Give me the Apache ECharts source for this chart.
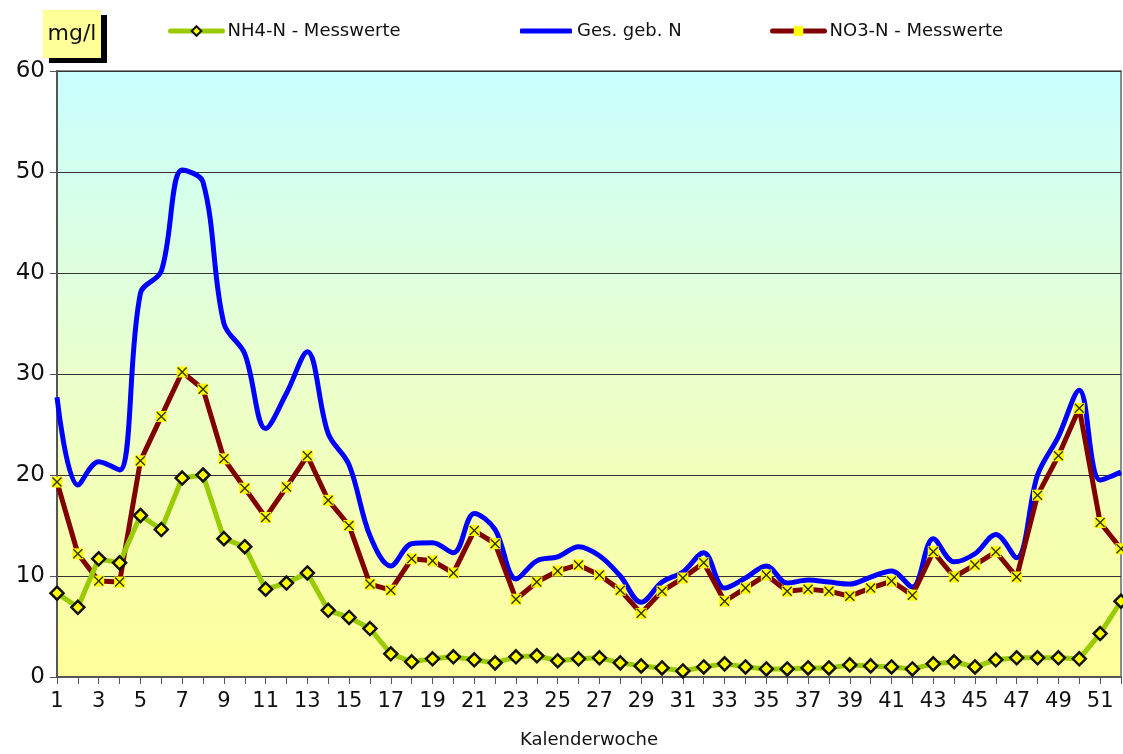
<!DOCTYPE html>
<html>
<head>
<meta charset="utf-8">
<script src="https://cdn.jsdelivr.net/npm/echarts@6/dist/echarts.min.js"></script>
<style>
  html, body { margin: 0; padding: 0; background: #fff; }
  #chart { width: 1123px; height: 754px; }
</style>
</head>
<body>
<div id="chart"></div>
<script>
// Kalenderwochen 1..52
const weeks = Array.from({ length: 52 }, (_, i) => String(i + 1));

const nh4 = [8.3, 6.9, 11.7, 11.3, 16.0, 14.6, 19.7, 20.0, 13.7, 12.9,
  8.7, 9.3, 10.3, 6.6, 5.9, 4.8, 2.3, 1.5, 1.8, 2.0,
  1.7, 1.4, 2.0, 2.1, 1.6, 1.8, 1.9, 1.4, 1.1, 0.9,
  0.6, 1.0, 1.3, 1.0, 0.8, 0.8, 0.9, 0.9, 1.2, 1.1,
  1.0, 0.8, 1.3, 1.5, 1.0, 1.7, 1.9, 1.9, 1.9, 1.8,
  4.3, 7.5];

const gesN = [27.7, 19.0, 21.3, 20.5, 38.0, 40.2, 50.2, 49.0, 35.0, 32.0,
  24.6, 28.1, 32.2, 24.1, 21.0, 14.0, 11.0, 13.2, 13.3, 12.3,
  16.2, 14.6, 9.7, 11.5, 11.9, 12.9, 12.0, 10.0, 7.4, 9.4,
  10.4, 12.3, 8.8, 9.8, 11.0, 9.3, 9.6, 9.4, 9.2, 9.9,
  10.5, 8.9, 13.7, 11.4, 12.2, 14.1, 11.8, 20.0, 23.8, 28.4,
  19.5, 20.3];

const no3 = [19.3, 12.2, 9.5, 9.4, 21.4, 25.8, 30.2, 28.5, 21.6, 18.7,
  15.8, 18.8, 21.9, 17.5, 15.0, 9.2, 8.6, 11.7, 11.5, 10.3,
  14.5, 13.2, 7.7, 9.4, 10.5, 11.1, 10.1, 8.6, 6.3, 8.5,
  9.8, 11.3, 7.5, 8.8, 10.1, 8.5, 8.7, 8.5, 8.0, 8.8,
  9.5, 8.1, 12.4, 9.9, 11.1, 12.4, 9.9, 18.0, 21.9, 26.6,
  15.3, 12.7];

const FONT = 'DejaVu Sans';
// schwarzes Kreuz auf dem gelben Kästchen
const crossPath = 'path://M1,0L5,4L9,0L10,1L6,5L10,9L9,10L5,6L1,10L0,9L4,5L0,1Z';

const chart = echarts.init(document.getElementById('chart'));

const legendBase = {
  top: 17,
  itemWidth: 52,
  itemHeight: 12,
  textStyle: { fontFamily: FONT, fontSize: 18, color: '#111' },
  lineStyle: { width: 5, cap: 'round' },
  itemGap: 2
};

chart.setOption({
  animation: false,
  textStyle: { fontFamily: FONT },
  grid: {
    left: 57, right: 2, top: 71, bottom: 77,
    show: true,
    borderColor: '#8a8a8a',
    borderWidth: 2,
    backgroundColor: new echarts.graphic.LinearGradient(0, 0, 0, 1, [
      { offset: 0, color: '#c8ffff' },
      { offset: 0.5, color: '#eaffcc' },
      { offset: 1, color: '#ffff99' }
    ])
  },
  legend: [
    Object.assign({}, legendBase, { left: 163, data: ['NH4-N - Messwerte'] }),
    Object.assign({}, legendBase, {
      left: 515, itemHeight: 5,
      data: [{ name: 'Ges. geb. N', icon: 'roundRect' }]
    }),
    Object.assign({}, legendBase, { left: 765, data: ['NO3-N - Messwerte'] })
  ],
  xAxis: {
    type: 'category',
    data: weeks,
    boundaryGap: false,
    name: 'Kalenderwoche',
    nameLocation: 'middle',
    nameGap: 54,
    nameTextStyle: { fontFamily: FONT, fontSize: 18, color: '#111' },
    axisLine: { lineStyle: { color: '#555', width: 2 } },
    axisTick: { interval: 0, length: 7, lineStyle: { color: '#555' } },
    axisLabel: { interval: 1, fontSize: 21, color: '#111', margin: 14 },
    splitLine: { show: false }
  },
  yAxis: {
    type: 'value',
    min: 0, max: 60, interval: 10,
    axisLine: { show: true, lineStyle: { color: '#555', width: 2 } },
    axisTick: { show: true, length: 7, lineStyle: { color: '#555' } },
    axisLabel: { fontSize: 23, color: '#111', margin: 12 },
    splitLine: { lineStyle: { color: '#333', width: 1 } }
  },
  graphic: [
    { type: 'rect', shape: { x: 49, y: 15, width: 58, height: 48 }, style: { fill: '#000' } },
    { type: 'rect', shape: { x: 43, y: 10, width: 58, height: 48 }, style: { fill: '#ffff99' } },
    {
      type: 'text', x: 72, y: 34,
      style: { text: 'mg/l', font: '22px "DejaVu Sans"', fill: '#111', align: 'center', verticalAlign: 'middle' }
    }
  ],
  series: [
    {
      name: 'Ges. geb. N',
      type: 'line',
      data: gesN,
      smooth: 0.35,
      showSymbol: false,
      symbol: 'none',
      lineStyle: { color: '#0000ff', width: 5 },
      itemStyle: { color: '#0000ff' },
      z: 2
    },
    {
      name: 'NO3-N - Messwerte',
      type: 'line',
      data: no3,
      symbol: 'rect',
      symbolSize: 11,
      lineStyle: { color: '#800000', width: 5 },
      itemStyle: { color: '#ffff00', borderWidth: 0 },
      z: 3
    },
    {
      name: 'no3-kreuz',
      type: 'scatter',
      data: no3,
      symbol: crossPath,
      symbolSize: 10,
      itemStyle: { color: '#000' },
      silent: true,
      z: 4
    },
    {
      name: 'NH4-N - Messwerte',
      type: 'line',
      data: nh4,
      symbol: 'diamond',
      symbolSize: 13,
      lineStyle: { color: '#99cc00', width: 5 },
      itemStyle: { color: '#ffff00', borderColor: '#111', borderWidth: 2.5 },
      z: 5
    }
  ]
});
</script>
</body>
</html>
